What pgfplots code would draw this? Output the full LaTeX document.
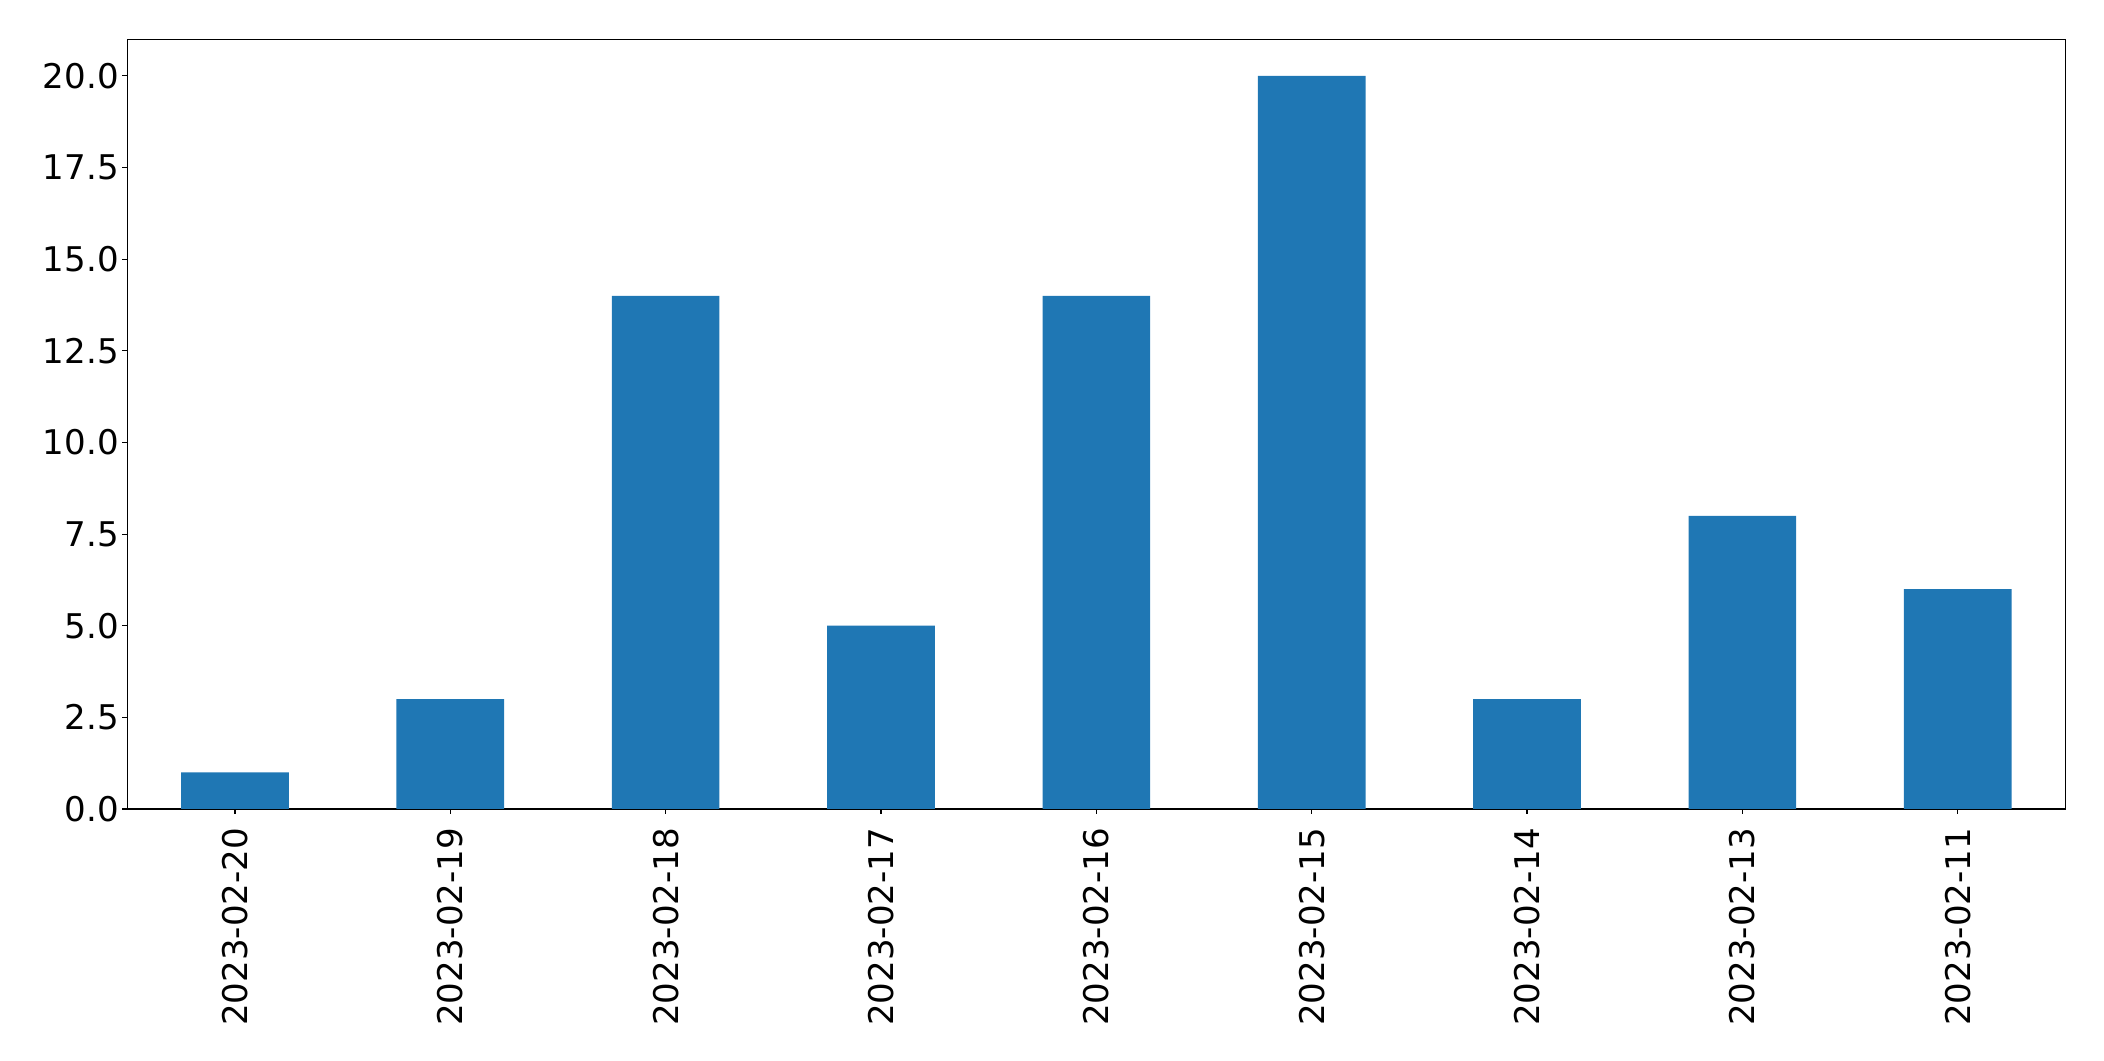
\documentclass[border=0pt]{standalone}
\usepackage{pgfplots}
\pgfplotsset{compat=1.18}
\usepackage{fontspec}
\setmainfont{DejaVu Sans}
\definecolor{mplblue}{HTML}{1F77B4}
\begin{document}
\begin{tikzpicture}
\useasboundingbox (0,0) rectangle (1514.88bp,763.92bp);
\begin{axis}[
  at={(91.66bp,181.44bp)}, anchor=south west,
  scale only axis, width=1395.4bp, height=554.2bp,
  xmin=-0.5, xmax=8.5, ymin=0, ymax=21,
  xtick={0,1,2,3,4,5,6,7,8},
  xticklabels={2023-02-20,2023-02-19,2023-02-18,2023-02-17,2023-02-16,2023-02-15,2023-02-14,2023-02-13,2023-02-11},
  ytick={0,2.5,5,7.5,10,12.5,15,17.5,20},
  yticklabel style={/pgf/number format/fixed,/pgf/number format/fixed zerofill,/pgf/number format/precision=1},
  /pgf/number format/assume math mode=true,
  tick label style={font=\fontsize{24.5bp}{28bp}\selectfont, text=black},
  xticklabel style={rotate=90, anchor=east, inner ysep=0pt, inner xsep=10bp},
  yticklabel style={inner ysep=0pt, inner xsep=2.5bp},
  tick align=outside, tick pos=left,
  major tick length=3.5bp,
  every tick/.style={black, line width=0.8bp},
  axis line style={black, line width=0.8bp},
  scaled y ticks=false,
]
\addplot[ybar, bar width=0.5, fill=mplblue, draw=none] coordinates {
  (0,1) (1,3) (2,14) (3,5) (4,14) (5,20) (6,3) (7,8) (8,6)
};
\end{axis}
\end{tikzpicture}
\end{document}
